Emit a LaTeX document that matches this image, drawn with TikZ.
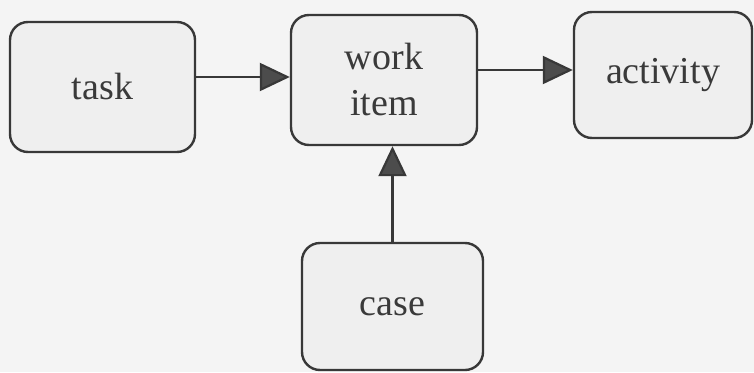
\documentclass[tikz,border=0pt]{standalone}
\usepackage{fontspec}
\setmainfont{Liberation Serif}
\usetikzlibrary{arrows.meta}
\definecolor{paper}{HTML}{F4F4F4}
\definecolor{boxfill}{HTML}{EFEFEF}
\definecolor{boxline}{HTML}{383838}
\definecolor{ink}{HTML}{3A3A3A}
\begin{document}
\begin{tikzpicture}[x=1pt,y=-1pt,
  box/.style={draw=boxline, line width=2.4pt, rounded corners=18pt, fill=boxfill,
    inner sep=0pt, text=ink, align=center,
    font=\fontsize{38}{46}\selectfont},
  link/.style={draw=boxline, line width=2.2pt,
    -{Triangle[length=30pt,width=28pt,fill=boxline!90]}}]
  % page
  \fill[paper] (0,0) rectangle (754,372);
  \useasboundingbox (0,0) rectangle (754,372);
  % boxes
  \node[box, minimum width=185pt, minimum height=130pt] (task) at (102.5,87) {task};
  \node[box, minimum width=186pt, minimum height=130pt] (work) at (384,80) {work\\item};
  \node[box, minimum width=178pt, minimum height=126pt] (activity) at (663,75) {activity};
  \node[box, minimum width=181pt, minimum height=127pt] (case) at (392.5,306.5) {case};
  % connectors
  \draw[link] ([yshift=10pt]task.east) -- ([yshift=3pt]work.west);
  \draw[link] ([yshift=10pt]work.east) -- ([yshift=5pt]activity.west);
  \draw[link] (case.north) -- (case.north |- work.south);
\end{tikzpicture}
\end{document}
